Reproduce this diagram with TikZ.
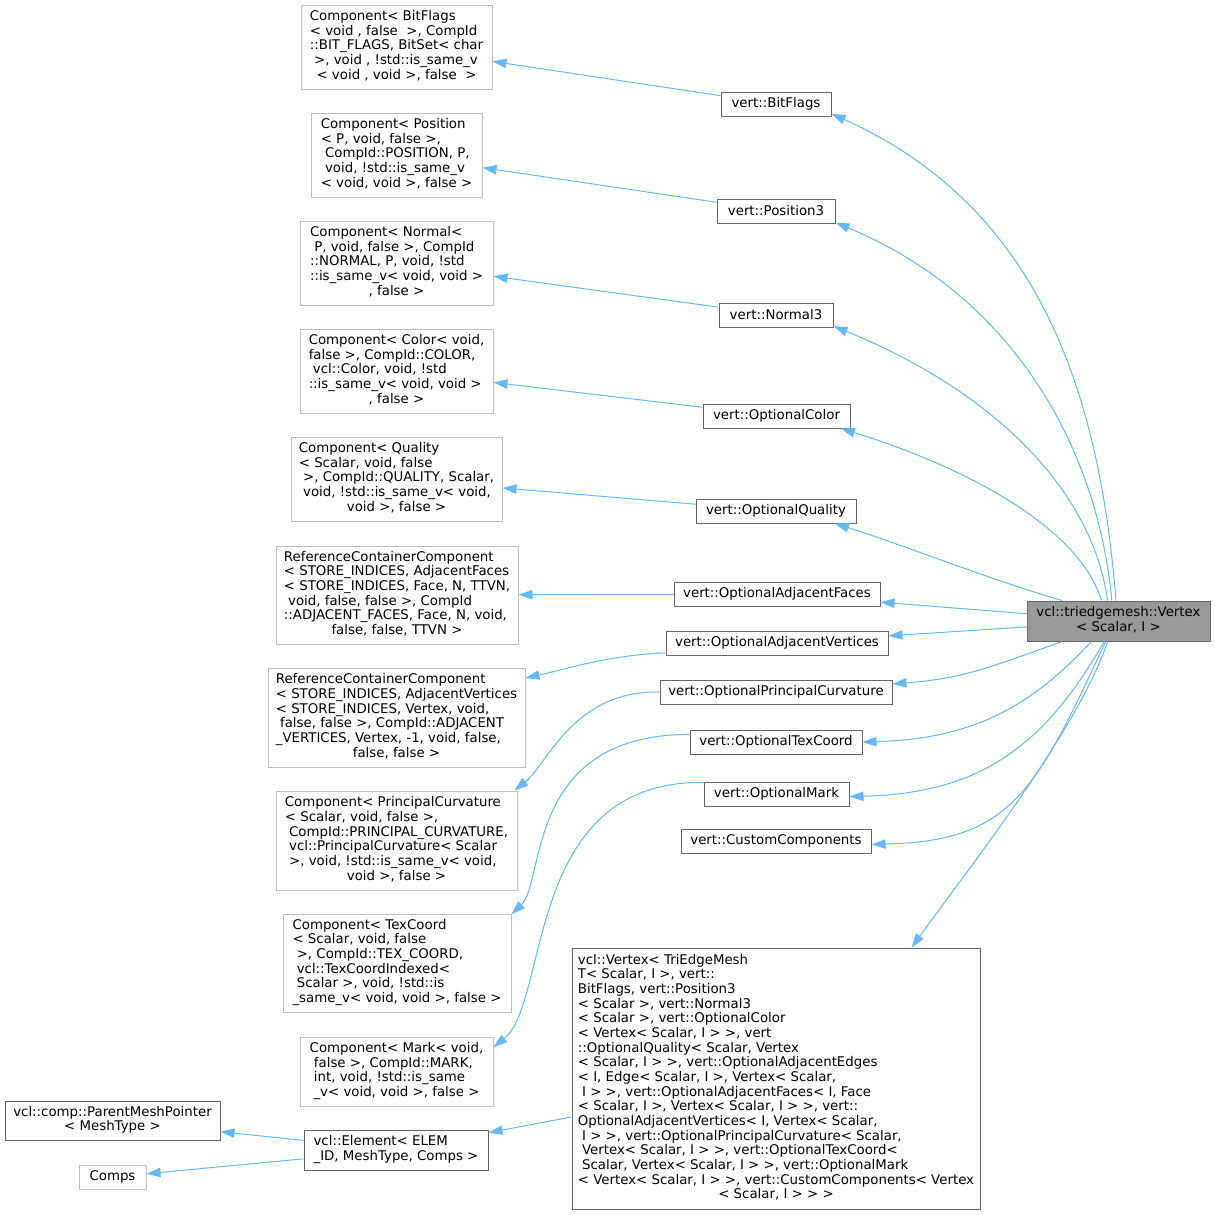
\documentclass[tikz,border=0pt]{standalone}
\usepackage{fontspec}
\setmainfont{DejaVu Sans}
\usetikzlibrary{arrows.meta}
\definecolor{edgeblue}{HTML}{63B8FF}
\definecolor{grey75}{HTML}{BFBFBF}
\definecolor{grey40}{HTML}{666666}
\definecolor{grey60}{HTML}{999999}
\newcommand{\boxtext}[2]{\begin{tabular}{@{}l@{}}#1\\\multicolumn{1}{@{}c@{}}{#2}\end{tabular}}
\tikzset{
  sz/.style 2 args={minimum width=#1*0.75pt,minimum height=#2*0.75pt},
  comp/.style={draw=grey75,fill=white,inner sep=0pt,line width=0.75pt},
  cls/.style={draw=grey40,fill=white,inner sep=0pt,line width=0.75pt},
  root/.style={draw=grey40,fill=grey60,inner sep=0pt,line width=0.75pt},
  inh/.style={draw=edgeblue,line width=0.75pt,-{Triangle[length=10.5pt,width=7pt]}}
}
\begin{document}
\begin{tikzpicture}[x=0.75pt,y=-0.75pt,font=\fontsize{10}{11}\selectfont]
\useasboundingbox (0,0) rectangle (1215,1215);
\node[comp,sz={191}{84}] (cBitFlags) at (396.5,47) {\boxtext{Component< BitFlags\\< void , false\ \ >, CompId\\::BIT\_FLAGS, BitSet< char\\\ >, void , !std::is\_same\_v}{< void , void >, false\ \ >}};
\node[comp,sz={171}{84}] (cPosition) at (396.5,155) {\boxtext{Component< Position\\< P, void, false >,\\\ CompId::POSITION, P,\\\ void, !std::is\_same\_v}{< void, void >, false >}};
\node[comp,sz={193}{84}] (cNormal) at (396.5,263) {\boxtext{Component< Normal<\\\ P, void, false >, CompId\\::NORMAL, P, void, !std\\::is\_same\_v< void, void >}{, false >}};
\node[comp,sz={193}{84}] (cColor) at (396.5,371) {\boxtext{Component< Color< void,\\false >, CompId::COLOR,\\\ vcl::Color, void, !std\\::is\_same\_v< void, void >}{, false >}};
\node[comp,sz={211}{84}] (cQuality) at (396.5,479) {\boxtext{Component< Quality\\< Scalar, void, false\\\ >, CompId::QUALITY, Scalar,\\\ void, !std::is\_same\_v< void,}{void >, false >}};
\node[comp,sz={242}{98}] (cAdjFaces) at (397,595) {\boxtext{ReferenceContainerComponent\\< STORE\_INDICES, AdjacentFaces\\< STORE\_INDICES, Face, N, TTVN,\\\ void, false, false >, CompId\\::ADJACENT\_FACES, Face, N, void,}{false, false, TTVN >}};
\node[comp,sz={257}{99}] (cAdjVertices) at (396.5,717.5) {\boxtext{ReferenceContainerComponent\\< STORE\_INDICES, AdjacentVertices\\< STORE\_INDICES, Vertex, void,\\\ false, false >, CompId::ADJACENT\\\_VERTICES, Vertex, -1, void, false,}{false, false >}};
\node[comp,sz={241}{99}] (cCurvature) at (396.5,840.5) {\boxtext{Component< PrincipalCurvature\\< Scalar, void, false >,\\\ CompId::PRINCIPAL\_CURVATURE,\\\ vcl::PrincipalCurvature< Scalar\\\ >, void, !std::is\_same\_v< void,}{void >, false >}};
\node[comp,sz={228}{98}] (cTexCoord) at (397,963) {\boxtext{Component< TexCoord\\< Scalar, void, false\\\ >, CompId::TEX\_COORD,\\\ vcl::TexCoordIndexed<\\\ Scalar >, void, !std::is}{\_same\_v< void, void >, false >}};
\node[comp,sz={193}{69}] (cMark) at (396.5,1071.5) {\boxtext{Component< Mark< void,\\\ false >, CompId::MARK,\\\ int, void, !std::is\_same}{\_v< void, void >, false >}};
\node[cls,sz={215}{39}] (cParentMesh) at (112.5,1120.5) {\boxtext{vcl::comp::ParentMeshPointer}{< MeshType >}};
\node[comp,sz={67}{24}] (cComps) at (112.5,1177) {Comps};
\node[cls,sz={184}{40}] (element) at (396,1150) {\boxtext{vcl::Element< ELEM}{\_ID, MeshType, Comps >}};
\node[cls,sz={110}{24}] (vBitFlags) at (776,104) {vert::BitFlags};
\node[cls,sz={118}{24}] (vPosition) at (776,211) {vert::Position3};
\node[cls,sz={114}{24}] (vNormal) at (776,315) {vert::Normal3};
\node[cls,sz={147}{24}] (vColor) at (776.5,416) {vert::OptionalColor};
\node[cls,sz={160}{24}] (vQuality) at (776,511) {vert::OptionalQuality};
\node[cls,sz={206}{24}] (vAdjFaces) at (777,594) {vert::OptionalAdjacentFaces};
\node[cls,sz={222}{24}] (vAdjVertices) at (777,643) {vert::OptionalAdjacentVertices};
\node[cls,sz={232}{24}] (vCurvature) at (776,692) {vert::OptionalPrincipalCurvature};
\node[cls,sz={172}{24}] (vTexCoord) at (776,742) {vert::OptionalTexCoord};
\node[cls,sz={145}{24}] (vMark) at (776.5,794) {vert::OptionalMark};
\node[cls,sz={190}{24}] (vCustom) at (776,841) {vert::CustomComponents};
\node[cls,sz={408}{261}] (vclVertex) at (776,1078.5) {\boxtext{vcl::Vertex< TriEdgeMesh\\T< Scalar, I >, vert::\\BitFlags, vert::Position3\\< Scalar >, vert::Normal3\\< Scalar >, vert::OptionalColor\\< Vertex< Scalar, I > >, vert\\::OptionalQuality< Scalar, Vertex\\< Scalar, I > >, vert::OptionalAdjacentEdges\\< I, Edge< Scalar, I >, Vertex< Scalar,\\\ I > >, vert::OptionalAdjacentFaces< I, Face\\< Scalar, I >, Vertex< Scalar, I > >, vert::\\OptionalAdjacentVertices< I, Vertex< Scalar,\\\ I > >, vert::OptionalPrincipalCurvature< Scalar,\\\ Vertex< Scalar, I > >, vert::OptionalTexCoord<\\\ Scalar, Vertex< Scalar, I > >, vert::OptionalMark\\< Vertex< Scalar, I > >, vert::CustomComponents< Vertex}{< Scalar, I > > >}};
\node[root,sz={183}{40}] (triVertex) at (1118.5,621) {\boxtext{vcl::triedgemesh::Vertex}{< Scalar, I >}};
\draw[inh] (vBitFlags) -- (cBitFlags);
\draw[inh] (vPosition) -- (cPosition);
\draw[inh] (vNormal) -- (cNormal);
\draw[inh] (vColor) -- (cColor);
\draw[inh] (vQuality) -- (cQuality);
\draw[inh] (vAdjFaces) -- (cAdjFaces);
\draw[inh] (vAdjVertices.185) .. controls +(-60,3) and +(45,-10) .. (cAdjVertices.17);
\draw[inh] (vCurvature.west) .. controls +(-86,-2) and +(33,-26) .. (cCurvature.23);
\draw[inh] (vTexCoord.175) .. controls +(-165,0) and +(34,-33) .. (cTexCoord.23);
\draw[inh] (vMark.171) .. controls +(-180,-2) and +(57,-47) .. (cMark.14);
\draw[inh] (triVertex.97) .. controls +(-16,-200) and +(212,95) .. (vBitFlags.-10);
\draw[inh] (triVertex.108) .. controls +(-14,-150) and +(180,75) .. (vPosition.-11);
\draw[inh] (triVertex.118) .. controls +(-15,-110) and +(160,65) .. (vNormal.-11);
\draw[inh] (triVertex.130) .. controls +(-20,-70) and +(130,40) .. (vColor.-11);
\draw[inh] (triVertex.160) .. controls +(-70,-20) and +(70,22) .. (vQuality.-12);
\draw[inh] (triVertex) -- (vAdjFaces);
\draw[inh] (triVertex) -- (vAdjVertices);
\draw[inh] (triVertex.200) .. controls +(-70,25) and +(70,-5) .. (vCurvature.4);
\draw[inh] (triVertex.217) .. controls +(-60,65) and +(110,-3) .. (vTexCoord.east);
\draw[inh] (triVertex.235) .. controls +(-60,105) and +(130,-3) .. (vMark.-2);
\draw[inh] (triVertex.238) .. controls +(-70,150) and +(140,-3) .. (vCustom.-2);
\draw[inh] (triVertex.242) .. controls +(-30,90) and +(50,-70) .. (vclVertex.44);
\draw[inh] (vclVertex) -- (element);
\draw[inh] (element) -- (cParentMesh);
\draw[inh] (element) -- (cComps);
\end{tikzpicture}
\end{document}
